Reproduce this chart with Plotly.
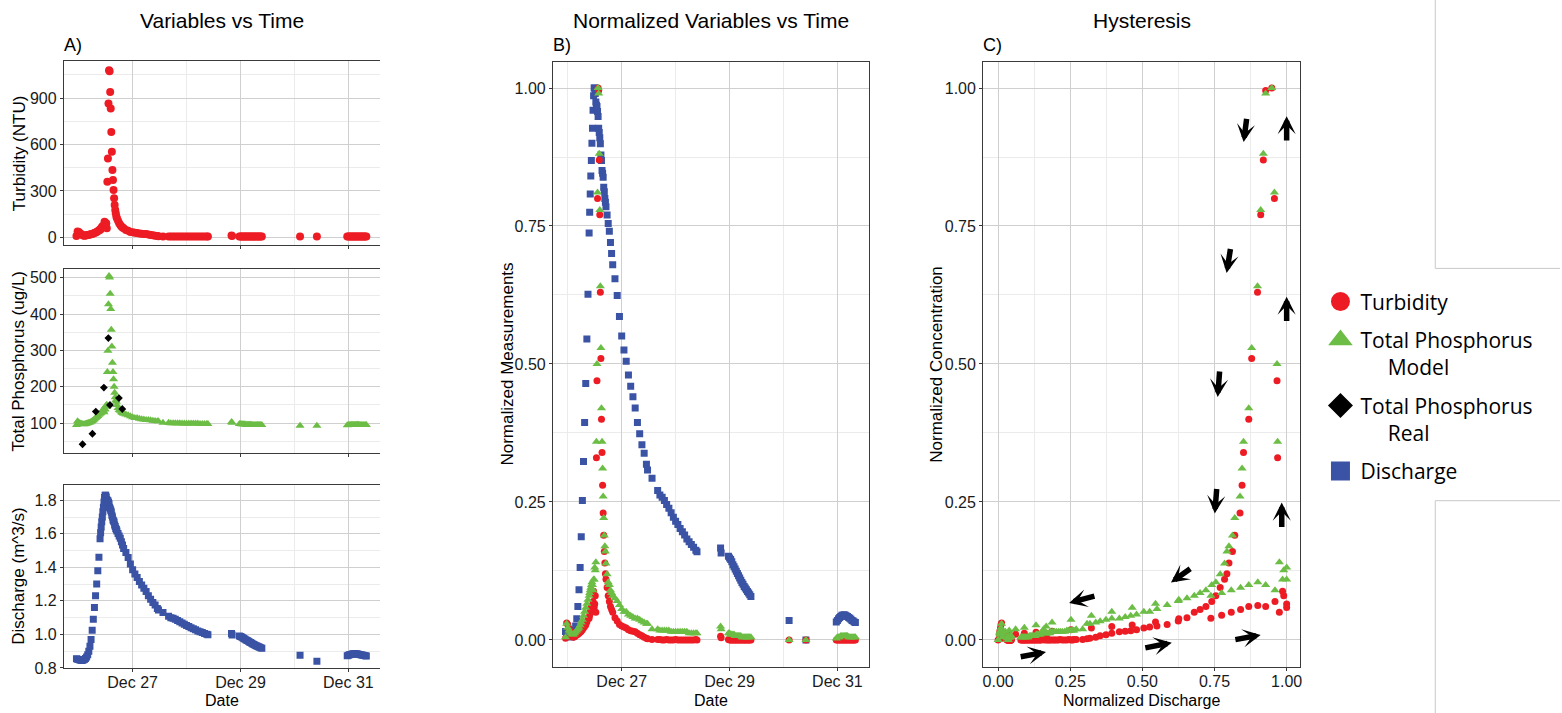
import numpy as np
import pandas as pd
import plotly.graph_objects as go

# ---------------- data ----------------
BASE = pd.Timestamp("2017-12-26 00:00")

# hours since Dec 26 00:00
hours = [
    -1.0, -0.5, 0.0, 0.5, 1.0, 1.5, 2.0, 2.5, 3.0, 3.5, 4.0, 4.5, 5.0, 5.5, 6.0, 6.5, 7.0, 7.5, 8.0, 8.5, 9.0,
    9.5, 9.75, 10.0, 10.25, 10.5, 10.75, 11.0, 11.25, 11.5, 11.75, 12.0, 12.25, 12.5, 12.75, 13.0, 13.25,
    13.5, 13.75, 14.0, 14.25, 14.5, 14.75, 15.0, 15.25, 15.5, 15.75, 16.0, 16.25, 16.5, 16.75, 17.0,
    17.5, 18.0, 18.5, 19.0, 19.5, 20.0, 21.0, 22.0, 23.0, 24.0, 25.0, 26.0, 27.0, 28.0, 29.0, 30.0, 31.0,
    32.0, 33.0, 34.0, 35.0, 35.5,
    37.5, 40.0, 41.0, 42.0, 43.0, 44.0, 45.0, 46.0, 47.0, 48.0, 49.0, 50.0, 51.0, 52.0, 53.0, 54.0, 55.0,
    56.0, 57.0, 57.5,
    68.0, 68.25, 71.5, 72.0, 72.5, 73.0, 73.5, 74.0, 74.5, 75.0, 75.5, 76.0, 76.5, 77.0, 77.5, 78.0, 78.5,
    79.0, 79.5, 80.0, 80.5, 81.0, 81.5,
    98.5, 106.0,
    119.5, 120.0, 120.5, 121.0, 121.5, 122.0, 122.5, 123.0, 123.5, 124.0, 124.5, 125.0, 125.5, 126.0,
    126.5, 127.0, 127.5, 128.0,
]

# discharge (m^3/s)
discharge = [
    0.855, 0.852, 0.850, 0.848, 0.846, 0.845, 0.847, 0.851, 0.857, 0.865, 0.878, 0.900, 0.930, 0.970, 1.025,
    1.090, 1.160, 1.230, 1.300, 1.380, 1.460,
    1.570, 1.607, 1.640, 1.672, 1.700, 1.731, 1.758, 1.790, 1.816, 1.830, 1.830, 1.820, 1.805, 1.799, 1.797,
    1.788, 1.779, 1.758, 1.750, 1.741, 1.730, 1.710, 1.700, 1.682, 1.677, 1.670, 1.652, 1.644, 1.632,
    1.625, 1.617,
    1.602, 1.587, 1.573, 1.553, 1.533, 1.513, 1.488, 1.458, 1.420, 1.385, 1.360, 1.340, 1.315, 1.295, 1.276,
    1.256, 1.230, 1.210, 1.190, 1.175, 1.155, 1.145,
    1.130, 1.108, 1.100, 1.096, 1.090, 1.083, 1.076, 1.068, 1.060, 1.053, 1.047, 1.040, 1.034, 1.028, 1.021,
    1.016, 1.011, 1.006, 1.001, 0.998,
    1.005, 0.996, 0.990, 0.987, 0.984, 0.980, 0.975, 0.971, 0.967, 0.963, 0.959, 0.955, 0.951, 0.947, 0.943,
    0.940, 0.936, 0.933, 0.930, 0.927, 0.924, 0.921, 0.918,
    0.875, 0.840,
    0.872, 0.875, 0.878, 0.880, 0.882, 0.884, 0.884, 0.885, 0.884, 0.883, 0.882, 0.880, 0.879, 0.877,
    0.875, 0.874, 0.872, 0.871,
]

# turbidity (NTU)
turbidity = [
    8, 38, 35, 28, 22, 16, 12, 10, 11, 13, 15, 16, 18, 20, 22, 25, 28, 31, 34, 40, 46,
    47, 53, 59, 64, 70, 72, 70, 80, 100, 68, 75, 91, 59, 360, 510, 865, 1080, 1075, 940, 833, 682, 553,
    435, 370, 306, 252, 209, 177, 155, 134, 123,
    107, 91, 80, 70, 64, 59, 48, 42, 35, 32, 30, 28, 25, 23, 22, 21, 18, 15, 13, 10, 8, 7,
    6, 6, 6, 5, 5, 6, 5, 5, 5, 6, 5, 5, 5, 5, 5, 5, 5, 5, 6, 5,
    12, 9, 6, 5, 5, 5, 5, 5, 5, 5, 5, 5, 5, 5, 5, 5, 5, 5, 5, 5, 5, 5, 5,
    5, 5,
    5, 5, 5, 5, 5, 5, 5, 5, 5, 5, 5, 5, 5, 5, 5, 5, 5, 5,
]

# total phosphorus, model (ug/L)
tp_model = [
    95, 105, 102, 100, 99, 98, 97, 97, 98, 99, 100, 101, 102, 104, 106, 108, 111, 114, 117, 120, 123,
    126, 128, 130, 132, 134, 136, 134, 130, 138, 138, 147, 145, 151, 241, 299, 427, 505, 501, 456, 414, 357,
    311, 266, 241, 221, 200, 184, 171, 163, 159, 150,
    142, 136, 134, 130, 128, 126, 124, 122, 119, 116, 114, 114, 112, 111, 110, 109, 109, 108, 107, 106,
    105, 105,
    101, 101, 100, 100, 100, 100, 100, 99, 99, 99, 99, 99, 99, 99, 99, 98, 98, 98, 98, 98,
    103, 101, 98, 98, 97, 97, 97, 97, 96, 96, 96, 96, 96, 96, 95, 95, 95, 95, 95, 95, 95, 95, 95,
    93, 93,
    94, 95, 95, 95, 96, 96, 96, 96, 96, 96, 96, 95, 95, 95, 95, 95, 95, 95,
]

# total phosphorus, real lab samples (ug/L)
hours_tp_real = [1.7, 6.1, 7.6, 11.2, 13.2, 13.9, 17.9, 19.4]
tp_real = [42, 71, 132, 198, 334, 150, 169, 139]

assert len(hours) == len(discharge) == len(turbidity) == len(tp_model)

turb_ticks = [0, 300, 600, 900]
turb_minor = [150, 450, 750, 1050]
tp_ticks = [100, 200, 300, 400, 500]
tp_minor = [50, 150, 250, 350, 450]
q_ticks = [0.8, 1.0, 1.2, 1.4, 1.6, 1.8]
q_labels = ["0.8", "1.0", "1.2", "1.4", "1.6", "1.8"]
q_minor = [0.9, 1.1, 1.3, 1.5, 1.7]
norm_ticks = [0.0, 0.25, 0.5, 0.75, 1.0]
norm_labels = ["0.00", "0.25", "0.50", "0.75", "1.00"]
norm_minor = [0.125, 0.375, 0.625, 0.875]
date_ticks = ["2017-12-27", "2017-12-29", "2017-12-31"]
date_labels = ["Dec 27", "Dec 29", "Dec 31"]
date_minor_a = ["2017-12-28", "2017-12-30"]
date_minor_b = ["2017-12-26", "2017-12-28", "2017-12-30"]

# ---------------- derived ----------------
times = BASE + pd.to_timedelta(hours, unit="h")
times_real = BASE + pd.to_timedelta(hours_tp_real, unit="h")

def norm(v):
    a = np.asarray(v, dtype=float)
    return (a - a.min()) / (a.max() - a.min())

qn = norm(discharge)
tn = norm(turbidity)
pn = norm(tp_model)

# ---------------- styling ----------------
W, H = 1562, 713          # reference picture size (layout is expressed in its pixels)
FIG_H = 723               # page height of the figure (capture is squeezed to 713)
RED = "#ED1C24"
GREEN = "#6CBD45"
BLUE = "#3A53A4"
BLACK = "#000000"
FONT = "Liberation Sans, Arial, sans-serif"
GRID = "#cfcfcf"
MINOR = "#ebebeb"
FRAME = "#3a3a3a"

def fx(px):
    return px / W

def fy(py):
    return 1 - py / H

date_range = [BASE + pd.Timedelta(hours=-6.6), BASE + pd.Timedelta(hours=134.2)]

fig = go.Figure()

# Panel A1 turbidity
fig.add_trace(go.Scatter(x=times, y=turbidity, mode="markers", xaxis="x", yaxis="y",
                         marker=dict(symbol="circle", size=8, color=RED), showlegend=False))
# Panel A2 TP model + real
fig.add_trace(go.Scatter(x=times, y=tp_model, mode="markers", xaxis="x2", yaxis="y2",
                         marker=dict(symbol="triangle-up", size=8, color=GREEN), showlegend=False))
fig.add_trace(go.Scatter(x=times_real, y=tp_real, mode="markers", xaxis="x2", yaxis="y2",
                         marker=dict(symbol="diamond", size=6, color=BLACK), showlegend=False))
# Panel A3 discharge
fig.add_trace(go.Scatter(x=times, y=discharge, mode="markers", xaxis="x3", yaxis="y3",
                         marker=dict(symbol="square", size=7, color=BLUE), showlegend=False))
# Panel B normalized
fig.add_trace(go.Scatter(x=times, y=qn, mode="markers", xaxis="x4", yaxis="y4",
                         marker=dict(symbol="square", size=7, color=BLUE), showlegend=False))
fig.add_trace(go.Scatter(x=times, y=tn, mode="markers", xaxis="x4", yaxis="y4",
                         marker=dict(symbol="circle", size=7, color=RED), showlegend=False))
fig.add_trace(go.Scatter(x=times, y=pn, mode="markers", xaxis="x4", yaxis="y4",
                         marker=dict(symbol="triangle-up", size=8, color=GREEN), showlegend=False))
# Panel C hysteresis
fig.add_trace(go.Scatter(x=qn, y=tn, mode="markers", xaxis="x5", yaxis="y5",
                         marker=dict(symbol="circle", size=7, color=RED), showlegend=False))
fig.add_trace(go.Scatter(x=qn, y=pn, mode="markers", xaxis="x5", yaxis="y5",
                         marker=dict(symbol="triangle-up", size=8, color=GREEN), showlegend=False))

# legend-only entries
legend_items = [
    ("Turbidity", "circle", RED),
    ("Total Phosphorus<br>" + "\u00a0" * 5 + "Model", "triangle-up", GREEN),
    ("Total Phosphorus<br>" + "\u00a0" * 5 + "Real", "diamond", BLACK),
    ("Discharge", "square", BLUE),
]
for i, (name, sym, col) in enumerate(legend_items):
    fig.add_trace(go.Scatter(x=[None], y=[None], mode="markers", name=name, xaxis="x5", yaxis="y5",
                             legendgroup=str(i),
                             marker=dict(symbol=sym, size=16, color=col, line=dict(color=col, width=3))))

tickfont = dict(family=FONT, size=16, color="#1a1a1a")

def yaxis_common(**kw):
    d = dict(showline=True, linecolor=FRAME, linewidth=1, ticks="outside", ticklen=3, tickcolor=FRAME,
             showgrid=True, gridcolor=GRID, gridwidth=1, zeroline=False, tickfont=tickfont,
             tickmode="array", fixedrange=True)
    d.update(kw)
    return d

def date_axis(domain, anchor, labels, minor_vals, mirror):
    return dict(type="date", domain=domain, anchor=anchor, range=date_range, tickmode="array",
                tickvals=date_ticks, ticktext=date_labels if labels else ["", "", ""],
                showticklabels=labels, showline=True, linecolor=FRAME, linewidth=1, mirror=mirror,
                ticks="outside", ticklen=3, tickcolor=FRAME, showgrid=True, gridcolor=GRID,
                gridwidth=1, zeroline=False, tickfont=tickfont, fixedrange=True, ticklabelstandoff=-3,
                minor=dict(tickmode="array", tickvals=minor_vals, showgrid=True, gridcolor=MINOR,
                           gridwidth=1, ticks=""))

xa = [fx(63), fx(380)]
xb = [fx(553), fx(870)]
xc = [fx(984), fx(1302)]

fig.update_layout(
    width=W, height=FIG_H,
    margin=dict(l=0, r=0, t=0, b=0),
    paper_bgcolor="white", plot_bgcolor="white",
    font=dict(family=FONT, size=16, color="black"),
    xaxis=date_axis(xa, "y", False, date_minor_a, True),
    xaxis2=date_axis(xa, "y2", False, date_minor_a, True),
    xaxis3=date_axis(xa, "y3", True, date_minor_a, True),
    xaxis4=date_axis(xb, "y4", True, date_minor_b, True),
    xaxis5=dict(domain=xc, anchor="y5", range=[-0.052, 1.048], tickmode="array", tickvals=norm_ticks,
                ticktext=norm_labels, showline=True, linecolor=FRAME, linewidth=1, mirror=True,
                ticks="outside", ticklen=3, tickcolor=FRAME, showgrid=True, gridcolor=GRID, zeroline=False,
                tickfont=tickfont, fixedrange=True, ticklabelstandoff=-3,
                minor=dict(tickmode="array", tickvals=norm_minor, showgrid=True, gridcolor=MINOR, ticks="")),
    yaxis=yaxis_common(domain=[fy(245), fy(61)], anchor="x", range=[-52, 1140], tickvals=turb_ticks,
                       minor=dict(tickmode="array", tickvals=turb_minor, showgrid=True, gridcolor=MINOR, ticks="")),
    yaxis2=yaxis_common(domain=[fy(452), fy(269)], anchor="x2", range=[19, 523], tickvals=tp_ticks,
                        minor=dict(tickmode="array", tickvals=tp_minor, showgrid=True, gridcolor=MINOR, ticks="")),
    yaxis3=yaxis_common(domain=[fy(667), fy(484)], anchor="x3", range=[0.8, 1.893], tickvals=q_ticks,
                        ticktext=q_labels,
                        minor=dict(tickmode="array", tickvals=q_minor, showgrid=True, gridcolor=MINOR, ticks="")),
    yaxis4=yaxis_common(domain=[fy(666), fy(62)], anchor="x4", range=[-0.049, 1.047], tickvals=norm_ticks,
                        ticktext=norm_labels, mirror=True,
                        minor=dict(tickmode="array", tickvals=norm_minor, showgrid=True, gridcolor=MINOR, ticks="")),
    yaxis5=yaxis_common(domain=[fy(666), fy(62)], anchor="x5", range=[-0.049, 1.047], tickvals=norm_ticks,
                        ticktext=norm_labels, mirror=True,
                        minor=dict(tickmode="array", tickvals=norm_minor, showgrid=True, gridcolor=MINOR, ticks="")),
    showlegend=True,
    legend=dict(x=fx(1322), y=fy(281), xanchor="left", yanchor="top", valign="top",
                font=dict(family="Open Sans, Noto Sans, sans-serif", size=21, color="black"),
                bgcolor="rgba(0,0,0,0)", tracegroupgap=8, traceorder="grouped"),
)

ann = []

def text_ann(txt, px, py, size, xanchor="center", angle=0):
    ann.append(dict(text=txt, x=fx(px), y=fy(py), xref="paper", yref="paper", showarrow=False,
                    xanchor=xanchor, yanchor="middle", textangle=angle, borderpad=0,
                    font=dict(family=FONT, size=size, color="black")))

# titles
text_ann("Variables vs Time", 221.5, 20, 21)
text_ann("Normalized Variables vs Time", 711.5, 20, 21)
text_ann("Hysteresis", 1143, 20, 21)
# panel labels
text_ann("A)", 62, 45, 18, xanchor="left")
text_ann("B)", 552, 45, 18, xanchor="left")
text_ann("C)", 983, 45, 18, xanchor="left")
# axis titles
text_ann("Turbidity (NTU)", 18, 153, 17, angle=-90)
text_ann("Total Phosphorus (ug/L)", 18, 360, 17, angle=-90)
text_ann("Discharge (m^3/s)", 18, 575, 17, angle=-90)
text_ann("Normalized Measurements", 507, 364, 17, angle=-90)
text_ann("Normalized Concentration", 937, 364, 17, angle=-90)
text_ann("Date", 221.5, 700, 16)
text_ann("Date", 711.5, 700, 16)
text_ann("Normalized Discharge", 1143, 700, 16)

# hysteresis direction arrows (tip x,y ; tail ax,ay) in panel C data units
arrows = [
    (0.851, 0.902, 0.862, 0.947),
    (1.000, 0.949, 1.000, 0.902),
    (0.792, 0.665, 0.806, 0.711),
    (1.000, 0.622, 1.000, 0.575),
    (0.761, 0.440, 0.768, 0.489),
    (0.751, 0.229, 0.758, 0.276),
    (0.983, 0.249, 0.983, 0.202),
    (0.599, 0.104, 0.671, 0.131),
    (0.246, 0.067, 0.339, 0.080),
    (0.166, -0.022, 0.073, -0.031),
    (0.602, -0.005, 0.505, -0.015),
    (0.910, 0.009, 0.817, 0.000),
]
for (x, y, ax, ay) in arrows:
    ann.append(dict(x=x, y=y, ax=ax, ay=ay, xref="x5", yref="y5", axref="x5", ayref="y5",
                    text="", showarrow=True, arrowhead=3, arrowsize=0.55, arrowwidth=5.5,
                    arrowcolor="black", standoff=0, startstandoff=0))

fig.update_layout(annotations=ann)

# stray frame lines at the right edge of the figure
line_style = dict(color="#c8c8c8", width=1)
shapes = []
for (x0, y0, x1, y1) in [(1437, 0, 1437, 268), (1437, 268, 1562, 268), (1437, 500, 1562, 500),
                         (1437, 500, 1437, 713)]:
    shapes.append(dict(type="line", xref="paper", yref="paper", x0=fx(x0), y0=fy(y0), x1=fx(x1),
                       y1=fy(y1), line=line_style))
fig.update_layout(shapes=shapes)

fig.write_html(
    "out.html",
    config={"displayModeBar": False, "staticPlot": True},
    post_script=(
        "var d=document.getElementById('{plot_id}');"
        "d.style.position='fixed';d.style.top='0px';d.style.left='0px';"
        "document.documentElement.style.margin='0';document.body.style.margin='0';"
        "document.documentElement.style.overflow='hidden';document.body.style.overflow='hidden';"
    ),
)
